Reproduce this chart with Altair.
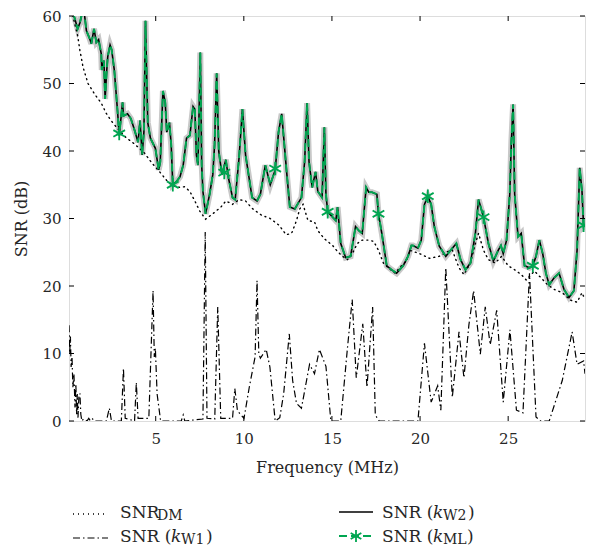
import altair as alt
import pandas as pd

# ---------------- data ----------------
freq_ticks = [5, 10, 15, 20, 25]
snr_ticks = [0, 10, 20, 30, 40, 50, 60]

# SNR(k_W2) and SNR(k_ML) (the two curves coincide)
main_f = [0.08, 0.25, 0.42, 0.57, 0.70, 0.83, 0.92, 1.07, 1.26, 1.35,
          1.50, 1.63, 1.76, 1.91, 1.94, 2.06, 2.13, 2.21, 2.28, 2.41,
          2.50, 2.65, 2.84, 2.93, 3.12, 3.17, 3.40, 3.59, 3.81, 4.00,
          4.11, 4.23, 4.33, 4.42, 4.55, 4.70, 4.98, 5.17, 5.26, 5.41,
          5.54, 5.63, 5.78, 5.88, 5.97, 6.19, 6.38, 6.56, 6.75, 6.94,
          7.12, 7.22, 7.31, 7.40, 7.53, 7.61, 7.68, 7.83, 8.06, 8.24,
          8.34, 8.46, 8.58, 8.76, 8.98, 9.13, 9.36, 9.51, 9.73, 9.92,
          10.10, 10.47, 10.75, 10.94, 11.22, 11.50, 11.78, 11.97, 12.15, 12.43,
          12.61, 12.89, 13.27, 13.45, 13.59, 13.70, 13.88, 14.07, 14.20, 14.44,
          14.57, 14.66, 14.76, 15.04, 15.22, 15.32, 15.50, 15.78, 16.06, 16.34,
          16.53, 16.72, 16.94, 17.09, 17.27, 17.55, 17.64, 17.83, 18.11, 18.39,
          18.67, 19.04, 19.32, 19.51, 19.60, 19.88, 20.07, 20.25, 20.44, 20.63,
          20.81, 21.09, 21.46, 21.83, 22.06, 22.30, 22.58, 22.86, 23.14, 23.32,
          23.42, 23.60, 23.88, 24.16, 24.44, 24.59, 24.72, 24.91, 25.09, 25.18,
          25.28, 25.37, 25.56, 25.74, 25.93, 26.21, 26.40, 26.58, 26.77, 26.96,
          27.14, 27.33, 27.61, 27.89, 28.17, 28.45, 28.73, 28.91, 29.06, 29.19,
          29.28, 29.36]
kw2_snr = [64, 61, 59.5, 58.1, 59.0, 60.5, 61, 57.8, 56.6, 55.9,
           58.1, 56.1, 56.5, 54.4, 52.0, 53.4, 47.7, 51.5, 54.0, 55.7,
           55.0, 52.0, 45.7, 42.3, 47.2, 45.2, 45.5, 44.8, 43.0, 41.3,
           44.5, 39.4, 42.8, 59.3, 44.2, 41.9, 40.4, 37.2, 38.4, 48.9,
           47.2, 42.8, 44.2, 40.9, 35.0, 35.5, 36.2, 37.9, 41.9, 42.3,
           46.6, 46.2, 39.4, 37.9, 54.6, 37.9, 34.0, 30.7, 33.6, 36.5,
           40.9, 51.5, 39.9, 36.5, 38.7, 36.0, 33.1, 32.8, 39.0, 46.2,
           39.4, 33.1, 32.6, 33.6, 37.9, 35.0, 37.2, 42.8, 45.5, 36.9,
           31.7, 31.4, 33.1, 38.4, 47.1, 38.4, 34.6, 36.9, 34.0, 33.1,
           43.5, 33.6, 31.0, 30.2, 29.7, 31.7, 26.3, 24.2, 24.4, 28.8,
           28.2, 27.8, 34.6, 33.9, 33.9, 33.6, 30.7, 27.8, 23.0, 22.4,
           21.9, 23.0, 24.4, 26.0, 26.0, 25.6, 26.8, 32.1, 33.3, 32.1,
           28.8, 25.9, 24.4, 25.6, 26.3, 23.9, 22.4, 23.4, 27.8, 32.8,
           31.9, 30.2, 26.3, 23.7, 25.3, 26.0, 24.8, 26.8, 33.6, 41.3,
           46.9, 33.6, 27.3, 27.8, 23.0, 22.7, 23.0, 24.4, 26.8, 24.8,
           21.9, 20.2, 21.2, 21.9, 19.5, 18.3, 19.3, 25.3, 37.5, 34.0,
           28.8, 29.0]
kml_snr = list(kw2_snr)

# star markers on the SNR(k_ML) curve
star_f = [2.93, 5.97, 8.89, 11.78, 14.76, 17.64, 20.44, 23.60, 26.40, 29.28]
star_snr = [42.6, 35.0, 36.8, 37.4, 31.0, 30.7, 33.3, 30.2, 23.0, 29.0]

# SNR_DM (dotted)
dm_f = [0.08, 0.25, 0.57, 0.70, 0.88, 1.16, 1.54, 1.91, 2.19, 2.47,
        2.84, 3.31, 3.77, 4.33, 4.79, 5.26, 5.73, 6.19, 6.66, 6.94,
        7.22, 7.50, 7.83, 8.24, 8.70, 8.98, 9.36, 9.73, 10.10, 10.47,
        11.0, 11.5, 12.0, 12.4, 12.71, 12.99, 13.17, 13.36, 13.64, 14.01,
        14.20, 14.57, 15.04, 15.32, 15.60, 15.88, 16.16, 16.44, 16.72, 17.09,
        17.37, 17.64, 17.92, 18.20, 18.58, 18.95, 19.23, 19.41, 19.97, 20.53,
        21.09, 21.55, 21.83, 22.21, 22.49, 22.86, 23.14, 23.32, 23.60, 23.88,
        24.26, 24.63, 25.00, 25.37, 25.74, 26.02, 26.49, 26.87, 27.23, 27.61,
        28.07, 28.54, 28.91, 29.19, 29.36]
dm_snr = [66, 60.5, 57.1, 54.9, 52.4, 50.0, 48.4, 47.1, 45.6, 44.5,
          43.3, 42.0, 41.1, 39.8, 38.2, 36.8, 35.3, 34.6, 34.7, 34.0,
          32.6, 31.1, 29.9, 30.7, 31.7, 32.6, 32.1, 32.8, 32.6, 31.5,
          30.5, 30.0, 29.0, 27.6, 27.8, 29.7, 31.4, 32.1, 29.7, 29.5,
          28.2, 27.0, 26.0, 25.1, 24.4, 23.9, 24.8, 26.3, 26.8, 26.8,
          26.6, 25.3, 23.4, 22.7, 21.9, 23.0, 23.7, 25.3, 24.8, 24.1,
          24.4, 25.1, 25.3, 22.7, 21.7, 23.4, 26.3, 27.8, 25.3, 23.9,
          23.4, 24.4, 23.0, 22.4, 21.7, 20.9, 22.2, 21.2, 20.2, 19.5,
          19.0, 17.9, 17.6, 19.0, 18.0]

# SNR(k_W1) (dash-dot)
w1_f = [0.08, 0.12, 0.16, 0.20, 0.25, 0.30, 0.36, 0.42, 0.47, 0.51,
        0.55, 0.59, 0.64, 0.70, 0.75, 0.81, 0.9, 1.1, 1.2, 1.3,
        1.42, 1.5, 2.2, 2.37, 2.49, 3.05, 3.17, 3.27, 3.80, 3.90,
        4.0, 4.61, 4.85, 4.92, 4.98, 5.08, 5.28, 6.45, 6.56, 6.65,
        7.68, 7.81, 7.91, 8.35, 8.52, 8.69, 9.36, 9.49, 9.64, 10.01,
        10.31, 10.64, 10.75, 10.85, 10.94, 11.27, 11.48, 11.78, 12.04, 12.26,
        12.58, 12.77, 12.99, 13.27, 13.73, 14.01, 14.29, 14.66, 14.94, 15.50,
        15.88, 16.15, 16.38, 16.75, 16.99, 17.31, 17.46, 17.68, 19.88, 20.25,
        20.63, 21.0, 21.18, 21.46, 21.83, 22.21, 22.49, 22.77, 23.04, 23.42,
        23.70, 23.98, 24.35, 24.72, 25.10, 25.47, 25.84, 26.21, 26.58, 26.84,
        27.33, 28.07, 28.63, 28.91, 29.28, 29.36]
w1_snr = [14.2, 10.0, 12.5, 8.0, 9.5, 5.0, 7.0, 2.0, 5.5, 1.0,
          4.0, 0.5, 3.5, 4.1, 1.0, 0.0, 0.3, 0.0, 0.4, 0.0,
          0.3, 0.0, 0.0, 1.9, 0.0, 0.0, 7.8, 0.4, 0.0, 5.7,
          0.4, 0.4, 19.3, 9.5, 10.8, 4.0, 0.0, 0.0, 0.9, 0.0,
          0.3, 28.0, 0.4, 0.3, 16.9, 0.4, 0.4, 4.8, 1.5, 0.4,
          5.0, 9.5, 20.8, 10.0, 9.3, 10.6, 8.0, 0.0, 0.5, 4.0,
          12.9, 6.0, 2.6, 1.9, 8.4, 7.0, 10.6, 8.1, 0.0, 0.0,
          10.8, 18.0, 6.4, 14.4, 5.0, 16.9, 0.9, 0.0, 0.0, 11.5,
          2.8, 5.2, 1.6, 22.7, 3.5, 13.2, 6.4, 14.2, 19.3, 9.9,
          16.9, 11.3, 16.4, 2.8, 13.5, 1.6, 1.2, 21.9, 0.6, 0.0,
          0.0, 6.0, 13.2, 8.4, 8.9, 7.0]

assert len(main_f) == len(kw2_snr) == len(kml_snr)
assert len(dm_f) == len(dm_snr)
assert len(w1_f) == len(w1_snr)
assert len(star_f) == len(star_snr)

# ---------------- style ----------------
FONT = "DejaVu Serif, Liberation Serif, serif"
TXT = "#262626"
GREEN = "#00a651"
W, H = 516, 405

xs = alt.Scale(domain=[0.08, 29.36], nice=False, zero=False)
ys = alt.Scale(domain=[0, 60], nice=False, zero=False)

xaxis = alt.Axis(values=freq_ticks, ticks=False, domain=False, grid=False,
                 labelFont=FONT, labelFontSize=15, labelColor=TXT, labelPadding=10,
                 title="Frequency (MHz)", titleFont=FONT, titleFontSize=16,
                 titleFontWeight="normal", titleColor=TXT, titlePadding=13)
yaxis = alt.Axis(values=snr_ticks, ticks=False, domain=False, grid=False,
                 labelFont=FONT, labelFontSize=15, labelColor=TXT, labelPadding=8,
                 title="SNR (dB)", titleFont=FONT, titleFontSize=16,
                 titleFontWeight="normal", titleColor=TXT, titlePadding=12)

main_df = pd.DataFrame({"f": main_f, "w2": kw2_snr, "ml": kml_snr})
dm_df = pd.DataFrame({"f": dm_f, "snr": dm_snr})
w1_df = pd.DataFrame({"f": w1_f, "snr": w1_snr})
star_df = pd.DataFrame({"f": star_f, "snr": star_snr})


def X(field="f"):
    return alt.X(f"{field}:Q", scale=xs, axis=xaxis)


def Y(field):
    return alt.Y(f"{field}:Q", scale=ys, axis=yaxis)


STAR = "M0,-1L0,1M-0.87,-0.5L0.87,0.5M-0.87,0.5L0.87,-0.5"

halo = alt.Chart(main_df).mark_line(color="#c8c8c8", strokeWidth=6, clip=True).encode(
    x=X(), y=Y("w2"))
dm = alt.Chart(dm_df).mark_line(color="black", strokeWidth=1.4, strokeDash=[1, 4],
                                strokeCap="round", clip=True).encode(x=X(), y=Y("snr"))
w1 = alt.Chart(w1_df).mark_line(color="black", strokeWidth=1.2, strokeDash=[7, 3, 1.5, 3],
                                clip=True).encode(x=X(), y=Y("snr"))
w2 = alt.Chart(main_df).mark_line(color="black", strokeWidth=1.6, clip=True).encode(
    x=X(), y=Y("w2"))
ml = alt.Chart(main_df).mark_line(color=GREEN, strokeWidth=2, strokeDash=[8, 4],
                                  clip=True).encode(x=X(), y=Y("ml"))
stars = alt.Chart(star_df).mark_point(shape=STAR, filled=False, color=GREEN, size=180,
                                      strokeWidth=1.8, opacity=1, clip=True).encode(
    x=X(), y=Y("snr"))

# inward ticks on all four sides
xt = pd.DataFrame({"v": freq_ticks})
yt = pd.DataFrame({"v": snr_ticks})
tick_b = alt.Chart(xt).mark_rule(color="black").encode(
    x=X("v"), y=alt.value(H - 5), y2=alt.value(H))
tick_t = alt.Chart(xt).mark_rule(color="black").encode(
    x=X("v"), y=alt.value(0), y2=alt.value(5))
tick_l = alt.Chart(yt).mark_rule(color="black").encode(
    y=Y("v"), x=alt.value(0), x2=alt.value(5))
tick_r = alt.Chart(yt).mark_rule(color="black").encode(
    y=Y("v"), x=alt.value(W - 5), x2=alt.value(W))

# ---------------- legend (drawn by hand for subscripts / italics) ----------------
one = pd.DataFrame({"k": [0]})


def txt(s, x, y, size=17, style="normal"):
    return alt.Chart(one).mark_text(text=s, font=FONT, fontSize=size, fontStyle=style,
                                    align="left", baseline="alphabetic", color=TXT).encode(
        x=alt.value(x), y=alt.value(y))


def sym(x1, x2, y, color, width, dash=None):
    kw = dict(color=color, strokeWidth=width)
    if dash:
        kw["strokeDash"] = dash
    return alt.Chart(one).mark_rule(**kw).encode(x=alt.value(x1), x2=alt.value(x2), y=alt.value(y))


r1, r2 = 502, 526  # baselines
legend = [
    sym(4, 39, r1 - 4, "black", 1.4, [1, 4]),
    txt("SNR", 51, r1), txt("DM", 88, r1 + 2, 14),
    sym(4, 39, r2 - 4, "black", 1.2, [7, 3, 1.5, 3]),
    txt("SNR (", 51, r2), txt("k", 102, r2, 17, "italic"), txt("W1", 112, r2 + 2, 14),
    txt(")", 137, r2),
    sym(270, 304, r1 - 6, "black", 1.6),
    txt("SNR (", 313, r1), txt("k", 364, r1, 17, "italic"), txt("W2", 374, r1 + 2, 14),
    txt(")", 399, r1),
    sym(270, 304, r2 - 6, GREEN, 2, [8, 4]),
    alt.Chart(one).mark_point(shape=STAR, filled=False, color=GREEN, size=150,
                              strokeWidth=1.8, opacity=1).encode(
        x=alt.value(287), y=alt.value(r2 - 6)),
    txt("SNR (", 313, r2), txt("k", 364, r2, 17, "italic"), txt("ML", 374, r2 + 2, 14),
    txt(")", 398, r2),
]

chart = alt.layer(halo, dm, w1, w2, ml, stars, tick_b, tick_t, tick_l, tick_r, *legend).properties(
    width=W, height=H,
    autosize=alt.AutoSizeParams(type="none"),
    padding={"left": 61, "top": 8, "right": 1, "bottom": 128},
).configure_view(stroke="black", strokeWidth=1).configure(background="white")

chart.save("out.html", embed_options={"renderer": "svg", "actions": False})
